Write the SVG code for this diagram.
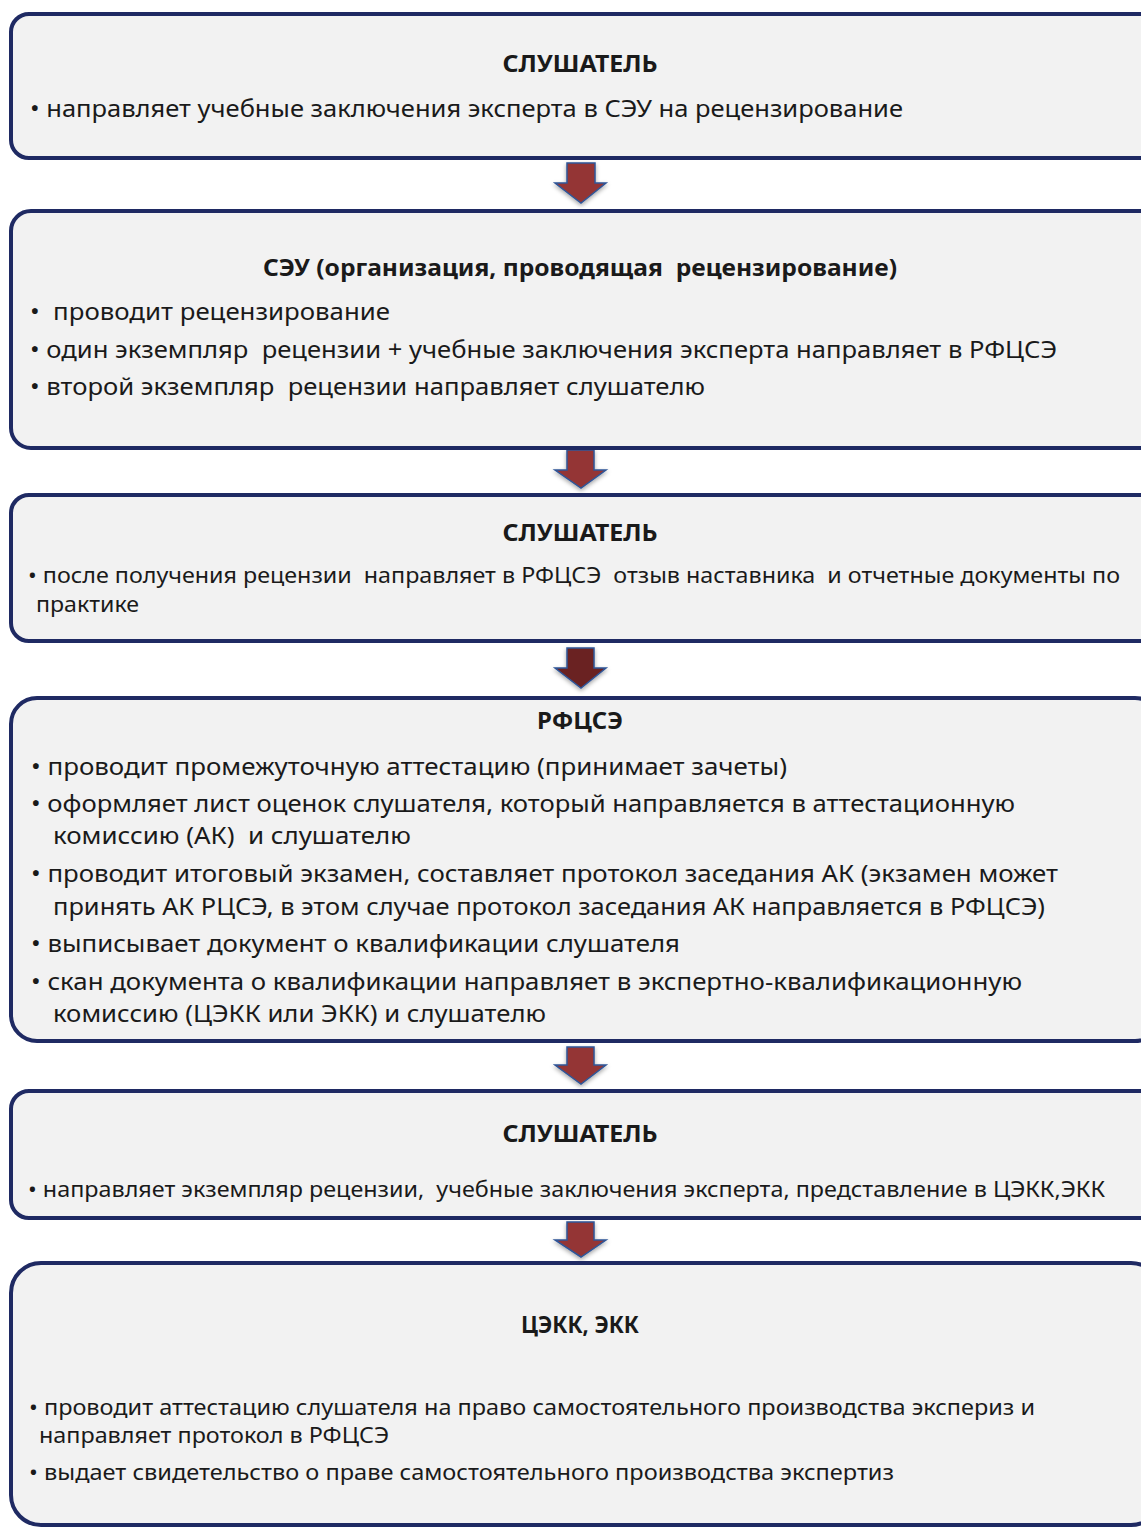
<svg xmlns="http://www.w3.org/2000/svg" width="1141" height="1528" viewBox="0 0 1141 1528">
<defs>
<style>
.box{fill:#f2f2f2;stroke:#1f2a63;stroke-width:4}
.t{font-family:"Noto Sans","Open Sans","DejaVu Sans",sans-serif;fill:#1a1a1a;white-space:pre}
.h{font-weight:bold;font-size:23px;text-anchor:middle}
.b{font-size:23px}
.s{font-size:21px}
.arr{fill:#943634;stroke:#2f5597;stroke-width:1.5;stroke-linejoin:miter}
.arr2{fill:#6b2020;stroke:#2f5597;stroke-width:1.5}
</style>
<filter id="sh" x="-30%" y="-30%" width="160%" height="160%">
<feDropShadow dx="0" dy="2" stdDeviation="2" flood-color="#000" flood-opacity="0.35"/>
</filter>
</defs>
<rect width="1141" height="1528" fill="#ffffff"/>

<g id="connectors">
<path class="arr" filter="url(#sh)" d="M567,163 H595 V183 H606 L581,203 L555,183 H567 Z"/>
<path class="arr" filter="url(#sh)" d="M567,450 H594 V470 H606 L581,488 L555,470 H567 Z"/>
<path class="arr2" filter="url(#sh)" d="M567,648 H594 V668 H606 L581,688 L555,668 H567 Z"/>
<path class="arr" filter="url(#sh)" d="M567,1047 H594 V1065 H606 L581,1084 L555,1065 H567 Z"/>
<path class="arr" filter="url(#sh)" d="M567,1222 H594 V1240 H606 L581,1257 L555,1240 H567 Z"/>
</g>

<g id="node1">
<rect class="box" x="11" y="14" width="1150" height="144" rx="18"/>
<text class="t h" x="580" y="72" textLength="155" lengthAdjust="spacingAndGlyphs">СЛУШАТЕЛЬ</text>
<text class="t b" x="30" y="117" textLength="873" lengthAdjust="spacingAndGlyphs">• направляет учебные заключения эксперта в СЭУ на рецензирование</text>
</g>

<g id="node2">
<rect class="box" x="11" y="211" width="1150" height="237" rx="20"/>
<text class="t h" x="580" y="276" textLength="634" lengthAdjust="spacingAndGlyphs">СЭУ (организация, проводящая  рецензирование)</text>
<text class="t b" x="30" y="320" textLength="360" lengthAdjust="spacingAndGlyphs">•  проводит рецензирование</text>
<text class="t b" x="30" y="358" textLength="1027" lengthAdjust="spacingAndGlyphs">• один экземпляр  рецензии + учебные заключения эксперта направляет в РФЦСЭ</text>
<text class="t b" x="30" y="395" textLength="675" lengthAdjust="spacingAndGlyphs">• второй экземпляр  рецензии направляет слушателю</text>
</g>

<g id="node3">
<rect class="box" x="11" y="495" width="1150" height="146" rx="18"/>
<text class="t h" x="580" y="541" textLength="155" lengthAdjust="spacingAndGlyphs">СЛУШАТЕЛЬ</text>
<text class="t s" x="28" y="583" textLength="1092" lengthAdjust="spacingAndGlyphs">• после получения рецензии  направляет в РФЦСЭ  отзыв наставника  и отчетные документы по</text>
<text class="t s" x="36" y="612" textLength="103" lengthAdjust="spacingAndGlyphs">практике</text>
</g>

<g id="node4">
<rect class="box" x="11" y="698" width="1150" height="343" rx="26"/>
<text class="t h" x="580" y="729" textLength="86" lengthAdjust="spacingAndGlyphs">РФЦСЭ</text>
<text class="t b" x="31" y="775" textLength="756" lengthAdjust="spacingAndGlyphs">• проводит промежуточную аттестацию (принимает зачеты)</text>
<text class="t b" x="31" y="812" textLength="984" lengthAdjust="spacingAndGlyphs">• оформляет лист оценок слушателя, который направляется в аттестационную</text>
<text class="t b" x="53" y="844" textLength="358" lengthAdjust="spacingAndGlyphs">комиссию (АК)  и слушателю</text>
<text class="t b" x="31" y="882" textLength="1027" lengthAdjust="spacingAndGlyphs">• проводит итоговый экзамен, составляет протокол заседания АК (экзамен может</text>
<text class="t b" x="53" y="915" textLength="992" lengthAdjust="spacingAndGlyphs">принять АК РЦСЭ, в этом случае протокол заседания АК направляется в РФЦСЭ)</text>
<text class="t b" x="31" y="952" textLength="649" lengthAdjust="spacingAndGlyphs">• выписывает документ о квалификации слушателя</text>
<text class="t b" x="31" y="990" textLength="991" lengthAdjust="spacingAndGlyphs">• скан документа о квалификации направляет в экспертно-квалификационную</text>
<text class="t b" x="53" y="1022" textLength="493" lengthAdjust="spacingAndGlyphs">комиссию (ЦЭКК или ЭКК) и слушателю</text>
</g>

<g id="node5">
<rect class="box" x="11" y="1091" width="1150" height="127" rx="18"/>
<text class="t h" x="580" y="1142" textLength="155" lengthAdjust="spacingAndGlyphs">СЛУШАТЕЛЬ</text>
<text class="t s" x="28" y="1197" textLength="1077" lengthAdjust="spacingAndGlyphs">• направляет экземпляр рецензии,  учебные заключения эксперта, представление в ЦЭКК,ЭКК</text>
</g>

<g id="node6">
<rect class="box" x="11" y="1263" width="1150" height="262" rx="30"/>
<text class="t h" x="580" y="1333" textLength="118" lengthAdjust="spacingAndGlyphs">ЦЭКК, ЭКК</text>
<text class="t s" x="29" y="1415" textLength="1006" lengthAdjust="spacingAndGlyphs">• проводит аттестацию слушателя на право самостоятельного производства экспериз и</text>
<text class="t s" x="39" y="1443" textLength="350" lengthAdjust="spacingAndGlyphs">направляет протокол в РФЦСЭ</text>
<text class="t s" x="29" y="1480" textLength="865" lengthAdjust="spacingAndGlyphs">• выдает свидетельство о праве самостоятельного производства экспертиз</text>
</g>
</svg>
